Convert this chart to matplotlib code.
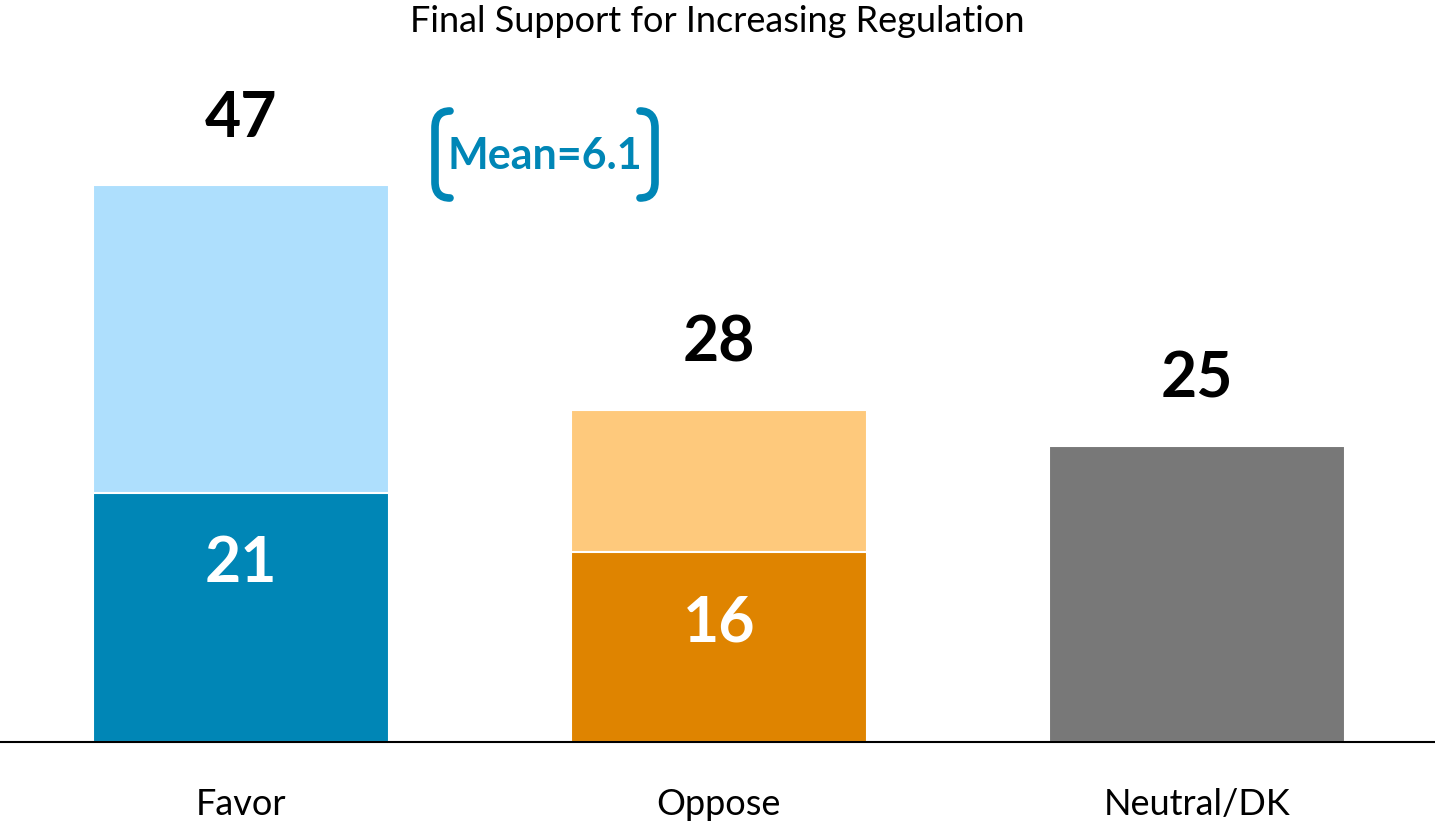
import matplotlib.pyplot as plt
from matplotlib.path import Path
from matplotlib.patches import PathPatch

# data
categories = ["Favor", "Oppose", "Neutral/DK"]
totals = [47, 28, 25]
strong = [21, 16, None]
mean_label = "Mean=6.1"
title = "Final Support for Increasing Regulation"

# colors
dark_colors = ["#0086B6", "#DF8400", "#787878"]
light_colors = ["#AEDFFD", "#FEC97C", "#787878"]
mean_color = "#0086B6"

plt.rcParams["font.family"] = ["Lato", "DejaVu Sans"]

W, H = 1435, 832
fig = plt.figure(figsize=(W / 100, H / 100), dpi=100)
base = (H - 742) / H
top = (H - 60) / H
ax = fig.add_axes([0, base, 1, top - base])

x = list(range(len(categories)))
width = 296 / 478

# total bars (light), then strong part (dark) on top
for i, t in enumerate(totals):
    ax.bar(x[i], t, width, color=light_colors[i], edgecolor="white", linewidth=1.5)
    if strong[i] is not None:
        ax.bar(x[i], strong[i], width, color=dark_colors[i], edgecolor="white", linewidth=1.5)
        ax.text(x[i], strong[i] - 6, str(strong[i]), ha="center", va="center",
                fontsize=45, fontweight="bold", color="white")
    ax.text(x[i], t + 5.6, str(t), ha="center", va="center",
            fontsize=45, fontweight="bold", color="black")

ax.set_xlim(-0.504, 2.498)
ax.set_ylim(0, 682 / 11.85)

for s in ["top", "left", "right"]:
    ax.spines[s].set_visible(False)
ax.spines["bottom"].set_linewidth(1.5)
ax.set_yticks([])
ax.set_xticks(x)
ax.set_xticklabels(categories, fontsize=26)
ax.tick_params(axis="x", length=0, pad=33)

fig.text(0.5, 1 - 22 / H, title, ha="center", va="center", fontsize=26)

# mean callout with bracket
fig.text(545 / W, 1 - 156 / H, mean_label, ha="center", va="center",
         fontsize=31, fontweight="bold", color=mean_color)


def fp(px, py):
    return (px / W, 1 - py / H)


def bracket(x0, x1):
    # x0: vertical line position, x1: end of hooks
    verts = [fp(x1, 111), fp(x0, 111), fp(x0, 128), fp(x0, 182),
             fp(x0, 198), fp(x1, 198)]
    codes = [Path.MOVETO, Path.CURVE3, Path.CURVE3, Path.LINETO,
             Path.CURVE3, Path.CURVE3]
    p = PathPatch(Path(verts, codes), transform=fig.transFigure, fill=False,
                  edgecolor=mean_color, linewidth=5.5, capstyle="round")
    fig.add_artist(p)


bracket(435, 450)
bracket(655, 640)

fig.savefig("out.png", dpi=100)
